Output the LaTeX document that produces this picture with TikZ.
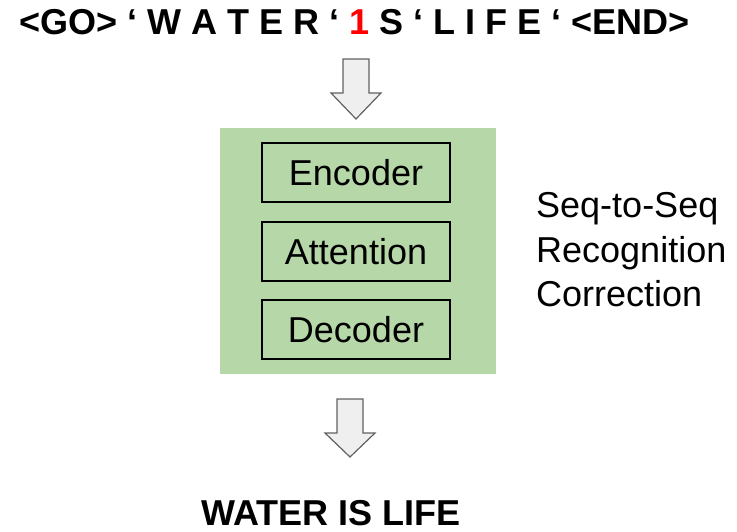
\documentclass[tikz,border=0pt]{standalone}
\usepackage{fontspec}
\setmainfont{Liberation Sans}
\definecolor{slgreen}{HTML}{B6D7A8}
\definecolor{arrowfill}{HTML}{EFEFEF}
\definecolor{arrowline}{HTML}{616161}
\begin{document}
\begin{tikzpicture}[x=1pt,y=-1pt,
  modbox/.style={draw=black, line width=1.3pt, fill=slgreen, minimum width=188pt,
    minimum height=59pt, inner sep=0pt, text height=26pt, text depth=0pt,
    font=\fontsize{36}{40}\selectfont},
  bigtext/.style={inner sep=0pt, font=\fontsize{36}{44}\selectfont},
  boldtext/.style={inner sep=0pt, font=\bfseries\fontsize{36}{44}\selectfont},
  blockarrow/.style={draw=arrowline, fill=arrowfill, line width=1.2pt, line join=miter}]
\useasboundingbox (0,0) rectangle (737,532);
% input sequence
\node[boldtext, anchor=base west] (input) at (19,35)
  {<GO> ‘ W A T E R ‘ \textcolor{red}{1} S ‘ L I F E ‘ <END>};
% top block arrow
\coordinate (a1) at (356,59);
\draw[blockarrow] (a1) ++(-13,0) -- ++(26,0) -- ++(0,34) -- ++(12,0) -- ++(-25,26)
  -- ++(-25,-26) -- ++(12,0) -- cycle;
% model panel
\node[fill=slgreen, minimum width=276pt, minimum height=246pt, inner sep=0pt,
  anchor=north west] (panel) at (220,128) {};
\node[modbox] (enc) at (356,172.5) {Encoder};
\node[modbox] (att) at (356,251.5) {Attention};
\node[modbox] (dec) at (356,329.5) {Decoder};
% side labels
\node[bigtext, anchor=base west] (rt1) at (536,218) {Seq-to-Seq};
\node[bigtext, anchor=base west] (rt2) at (536,262) {Recognition};
\node[bigtext, anchor=base west] (rt3) at (536,306) {Correction};
% bottom block arrow
\coordinate (a2) at (350,399);
\draw[blockarrow] (a2) ++(-13,0) -- ++(26,0) -- ++(0,34) -- ++(12,0) -- ++(-25,24)
  -- ++(-25,-24) -- ++(12,0) -- cycle;
% output
\node[boldtext, anchor=base west] (output) at (201,525) {WATER IS LIFE};
\end{tikzpicture}
\end{document}
